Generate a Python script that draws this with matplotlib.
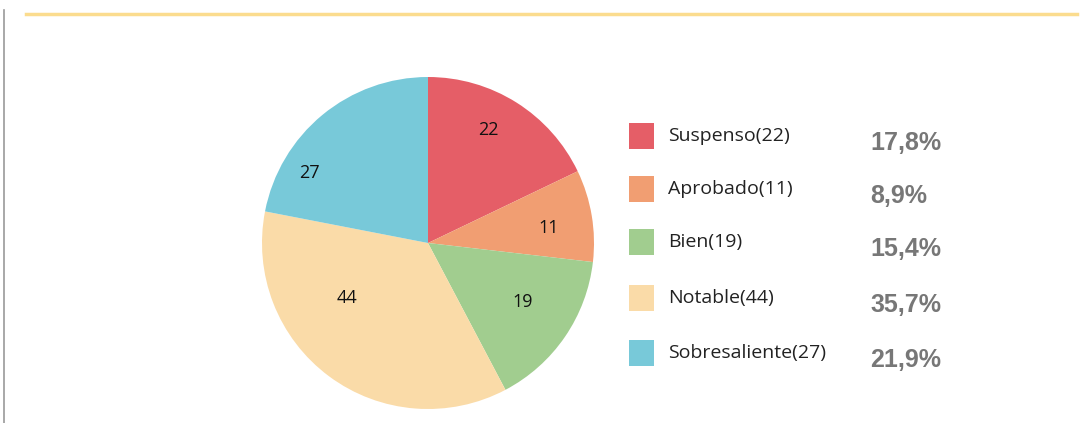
"""Pie chart of grade distribution with legend and percentages."""

import matplotlib.pyplot as plt
from matplotlib.patches import Rectangle
import numpy as np

categories = ["Suspenso", "Aprobado", "Bien", "Notable", "Sobresaliente"]
counts = [22, 11, 19, 44, 27]
pct_labels = ["17,8%", "8,9%", "15,4%", "35,7%", "21,9%"]

colors = ["#E55E67", "#F19E72", "#A1CD8F", "#FADBA8", "#78C9D9"]
# in-wedge number placement: radius fraction and angle offset from wedge middle (deg)
label_radius = [0.77, 0.735, 0.67, 0.59, 0.83]
label_shift = [4.2, -2.4, 2.3, -19.2, 20.0]

W, H = 1090, 423
fig = plt.figure(figsize=(W / 100, H / 100), dpi=100)
fig.patch.set_facecolor("white")

# page decorations: gray left rule and yellow top rule
fig.add_artist(plt.Line2D([4 / W, 4 / W], [0, 1 - 10 / H], color="#9a9a9a", lw=1.2))
fig.add_artist(plt.Line2D([26 / W, 1077 / W], [1 - 14 / H, 1 - 14 / H], color="#FBDC8E", lw=2.5))

# pie
cx, cy, r = 428, H - 243, 166
ax = fig.add_axes([(cx - r) / W, (cy - r) / H, 2 * r / W, 2 * r / H])
wedges, _ = ax.pie(counts, colors=colors, startangle=90, counterclock=False,
                   radius=1, wedgeprops=dict(linewidth=0))
ax.set_xlim(-1, 1)
ax.set_ylim(-1, 1)
ax.set_aspect("equal")
ax.axis("off")

for w, n, rr, sh in zip(wedges, counts, label_radius, label_shift):
    ang = np.deg2rad((w.theta1 + w.theta2) / 2 + sh)
    ax.text(rr * np.cos(ang), rr * np.sin(ang), str(n), ha="center", va="center",
            fontsize=13, color="#111111", family="Open Sans", fontweight="medium")

# legend (pixel coordinates)
lg = fig.add_axes([0, 0, 1, 1])
lg.set_xlim(0, W)
lg.set_ylim(H, 0)
lg.axis("off")
row_y = [136, 189, 242, 298, 353]
for y, cat, n, col, pct in zip(row_y, categories, counts, colors, pct_labels):
    lg.add_patch(Rectangle((629, y - 13), 25, 26, facecolor=col, edgecolor="none"))
    lg.text(668, y, f"{cat}({n})", ha="left", va="center", fontsize=14,
            color="#222222", family="Open Sans", fontweight="medium")
    lg.text(870, y + 7, pct, ha="left", va="center", fontsize=18, fontweight="bold",
            color="#777777", family=["Liberation Sans Narrow", "Liberation Sans"])

fig.savefig("out.png", dpi=100)
